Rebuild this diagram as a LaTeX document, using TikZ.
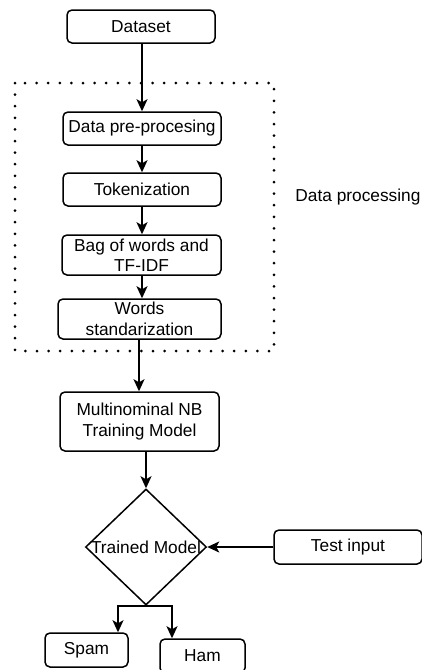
\documentclass[tikz,border=0pt]{standalone}
\usepackage{fontspec}
\setmainfont{Liberation Sans}
\usetikzlibrary{arrows.meta,shapes.geometric,calc}
\begin{document}
\begin{tikzpicture}[x=1pt,y=-1pt,
  every node/.style={font=\fontsize{17.3}{20.5}\selectfont},
  box/.style={draw, rectangle, rounded corners=5pt, line width=1.5pt, inner sep=0pt, align=center},
  arr/.style={line width=1.6pt, -{Stealth[length=12pt,width=11pt,inset=3pt]}},
  plain/.style={draw=none, inner sep=0pt}
]
\useasboundingbox (0,0) rectangle (422,670);
% dotted group frame
\draw[line width=3pt, line cap=round, dash pattern=on 0pt off 11.6pt] (15,83) rectangle (274,351);
\node[plain] (lbl) at (358,197) {Data processing};

\node[box, minimum width=148pt, minimum height=33pt] (dataset) at (141,26.5) {Dataset};
\node[box, minimum width=158pt, minimum height=33pt] (pre) at (142,128.5) {Data pre-procesing};
\node[box, minimum width=158pt, minimum height=33pt] (tok) at (142,189.5) {Tokenization};
\node[box, minimum width=159pt, minimum height=40pt] (bag) at (141.5,255) {Bag of words and\\TF-IDF};
\node[box, minimum width=163pt, minimum height=40pt] (words) at (139.5,319) {Words\\standarization};
\node[box, minimum width=159pt, minimum height=59pt] (multi) at (139.5,421.5) {Multinominal NB\\Training Model};
\node[draw, diamond, line width=1.5pt, minimum width=121pt, minimum height=116pt, inner sep=0pt] (trained) at (146,547) {\makebox[0pt]{Trained Model}};
\node[box, minimum width=148pt, minimum height=34pt] (test) at (348,547) {Test input};
\node[box, minimum width=83pt, minimum height=34pt] (spam) at (86.5,650) {Spam};
\node[box, minimum width=85pt, minimum height=34pt] (ham) at (202.5,656) {Ham};

\draw[arr] ([xshift=1pt]dataset.south) -- (pre.north);
\draw[arr] (pre.south) -- (tok.north);
\draw[arr] (tok.south) -- (tok.south |- bag.north);
\draw[arr] (bag.south -| tok.south) -- (tok.south |- words.north);
\draw[arr] ([xshift=-0.5pt]words.south) -- ([xshift=-0.5pt]words.south |- multi.north);
\draw[arr] (trained.north |- multi.south) -- (trained.north);
\draw[arr] (test.west) -- (trained.east);
\draw[arr] (trained.south) -| ([xshift=31.5pt]spam.north);
\draw[arr] (trained.south) -| ([xshift=-30.5pt]ham.north);
\end{tikzpicture}
\end{document}
